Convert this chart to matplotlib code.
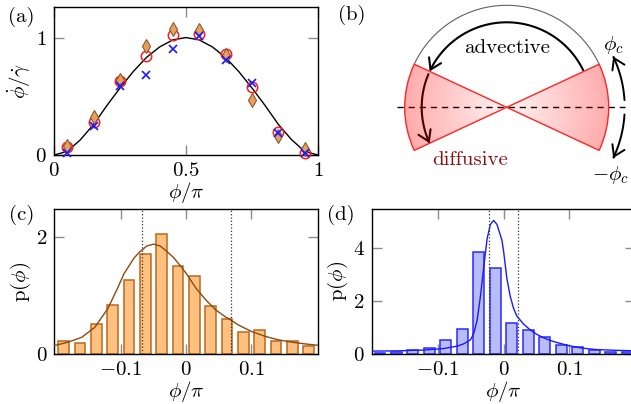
import numpy as np
import matplotlib
matplotlib.use("Agg")
import matplotlib.pyplot as plt
import matplotlib.patches as mpatches
from matplotlib.path import Path

plt.rcParams.update({
    "font.family": "serif",
    "font.serif": ["cmr10"],
    "mathtext.fontset": "cm",
    "axes.formatter.use_mathtext": True,
    "axes.unicode_minus": False,
    "font.size": 15,
})

# ---------------- data ----------------
# panel (a)
phi_pts = [0.05, 0.15, 0.25, 0.35, 0.45, 0.55, 0.65, 0.75, 0.85, 0.95]
circle_vals = [0.065, 0.28, 0.63, 0.84, 1.02, 1.03, 0.86, 0.58, 0.20, 0.02]
diamond_vals = [0.08, 0.32, 0.64, 0.93, 1.07, 1.06, 0.85, 0.47, 0.16, 0.05]
cross_vals = [0.02, 0.25, 0.59, 0.68, 0.90, 1.01, 0.81, 0.61, 0.19, 0.02]
curve_a_x = [0.0, 0.05, 0.1, 0.15, 0.2, 0.25, 0.3, 0.35, 0.4, 0.45, 0.5,
             0.55, 0.6, 0.65, 0.7, 0.75, 0.8, 0.85, 0.9, 0.95, 1.0]
curve_a_y = [0.0, 0.03, 0.13, 0.26, 0.42, 0.57, 0.71, 0.83, 0.92, 0.98, 1.0,
             0.98, 0.92, 0.83, 0.71, 0.57, 0.42, 0.26, 0.13, 0.03, 0.0]
ticks_a_x = [0, 0.5, 1]
ticklabels_a_x = ["$0$", "$0.5$", "$1$"]
ticks_a_y = [0, 1]
ticklabels_a_y = ["$0$", "$1$"]

# panels (c), (d): histogram bins
bin_centers = [-0.1875, -0.1625, -0.1375, -0.1125, -0.0875, -0.0625, -0.0375, -0.0125,
               0.0125, 0.0375, 0.0625, 0.0875, 0.1125, 0.1375, 0.1625, 0.1875]
hist_c = [0.22, 0.20, 0.51, 0.84, 1.27, 1.71, 2.06, 1.50, 1.34, 0.83, 0.60, 0.38, 0.41,
          0.23, 0.22, 0.14]
hist_d = [0.05, 0.08, 0.16, 0.23, 0.54, 0.94, 3.85, 3.27, 1.19, 0.91, 0.67, 0.35, 0.29,
          0.15, 0.10, 0.09]
curve_c_x = [-0.205, -0.18, -0.16, -0.14, -0.12, -0.105, -0.095, -0.08, -0.072, -0.06,
             -0.05, -0.04, -0.031, -0.02, -0.008, 0.0, 0.015, 0.03, 0.045, 0.06, 0.068,
             0.08, 0.10, 0.12, 0.14, 0.16, 0.18, 0.205]
curve_c_y = [0.14, 0.21, 0.29, 0.46, 0.78, 1.13, 1.38, 1.64, 1.74, 1.85,
             1.88, 1.85, 1.77, 1.66, 1.50, 1.38, 1.13, 0.93, 0.76, 0.64, 0.59,
             0.50, 0.39, 0.31, 0.25, 0.21, 0.18, 0.15]
curve_d_x = [-0.2, -0.16, -0.12, -0.09, -0.07, -0.06, -0.05, -0.045, -0.04, -0.035,
             -0.03, -0.025, -0.02, -0.015, -0.01, -0.0025, 0.0, 0.005, 0.01, 0.015,
             0.02, 0.03, 0.04, 0.05, 0.06, 0.07, 0.08, 0.10, 0.12, 0.14, 0.17, 0.2]
curve_d_y = [0.12, 0.13, 0.16, 0.22, 0.31, 0.40, 0.55, 0.80, 1.30, 2.20,
             3.30, 4.35, 4.90, 5.05, 4.90, 4.31, 3.90, 2.87, 2.20, 1.75,
             1.45, 1.15, 0.93, 0.76, 0.63, 0.53, 0.45, 0.32, 0.23, 0.18, 0.15, 0.13]
phic_c = 0.068
phic_d = 0.022
ticks_cd_x = [-0.1, 0, 0.1]
ticklabels_cd_x = ["$-0.1$", "$0$", "$0.1$"]
ticks_c_y = [0, 2]
ticklabels_c_y = ["$0$", "$2$"]
ticks_d_y = [0, 2, 4]
ticklabels_d_y = ["$0$", "$2$", "$4$"]

# panel (b) schematic
phi_c_deg = 25

W, H = 631, 404
fig = plt.figure(figsize=(W / 100, H / 100), dpi=100)


def px_axes(left, top, right, bottom):
    return fig.add_axes([left / W, 1 - bottom / H, (right - left) / W, (bottom - top) / H])


def style(ax):
    ax.tick_params(direction="in", length=7, width=1, color="#8c8c8c", top=True,
                   right=True, pad=5, labelsize=15)
    for s in ax.spines.values():
        s.set_linewidth(1.0)
        s.set_color("black")


# ---------------- (a) ----------------
axa = px_axes(54, 7, 318, 155)
axa.plot(curve_a_x, curve_a_y, color="black", lw=1.0, zorder=2)
axa.plot(phi_pts, circle_vals, "o", ms=7.5, mfc="none", mec="#ff1a1a", mew=1.1, zorder=3,
         clip_on=False)
axa.plot(phi_pts, diamond_vals, "d", ms=7.0, mfc="#e8a060", mec="#8b5a2b", mew=0.8,
         zorder=4, clip_on=False)
axa.plot(phi_pts, cross_vals, "x", ms=6, mec="#1a1aff", mew=1.2, zorder=5, clip_on=False)
axa.set_xlim(0, 1)
axa.set_ylim(0, 1.26)
axa.set_xticks(ticks_a_x)
axa.set_xticklabels(ticklabels_a_x)
axa.set_yticks(ticks_a_y)
axa.set_yticklabels(ticklabels_a_y)
style(axa)
axa.set_xlabel(r"$\phi/\pi$", labelpad=0)
axa.set_ylabel(r"$\dot{\phi}/\dot{\gamma}$", labelpad=2)

# ---------------- (c) ----------------
bar_w = 0.0165
axc = px_axes(54.3, 209, 318, 354.3)
axc.bar(bin_centers, hist_c, width=bar_w, color="#ffc080", edgecolor="#b8681e", lw=1.1,
        zorder=2)
axc.plot(curve_c_x, curve_c_y, color="#8b4a10", lw=1.0, zorder=3)
for v in (-phic_c, phic_c):
    axc.axvline(v, color="#333333", ls=":", lw=0.9, zorder=4)
axc.set_xlim(-0.202, 0.202)
axc.set_ylim(0, 2.48)
axc.set_xticks(ticks_cd_x)
axc.set_xticklabels(ticklabels_cd_x)
axc.set_yticks(ticks_c_y)
axc.set_yticklabels(ticklabels_c_y)
style(axc)
axc.set_xlabel(r"$\phi/\pi$", labelpad=0)
axc.set_ylabel(r"$\mathrm{p}(\phi)$", labelpad=2)

# ---------------- (d) ----------------
axd = px_axes(371.7, 208.5, 635.4, 354.3)
axd.bar(bin_centers, hist_d, width=bar_w, color="#b8bcf8", edgecolor="#2a2aff", lw=1.1,
        zorder=2)
axd.plot(curve_d_x, curve_d_y, color="#1a1aff", lw=1.0, zorder=3)
for v in (-phic_d, phic_d):
    axd.axvline(v, color="#333333", ls=":", lw=0.9, zorder=4)
axd.set_xlim(-0.2, 0.2)
axd.set_ylim(0, 5.5)
axd.set_xticks(ticks_cd_x)
axd.set_xticklabels(ticklabels_cd_x)
axd.set_yticks(ticks_d_y)
axd.set_yticklabels(ticklabels_d_y)
style(axd)
axd.set_xlabel(r"$\phi/\pi$", labelpad=0)
axd.set_ylabel(r"$\mathrm{p}(\phi)$", labelpad=2)

# ---------------- (b) schematic ----------------
cx, cy = 506.7, 107.3
axb = px_axes(330, 0, 631, 200)
axb.set_xlim(330 - cx, 631 - cx)
axb.set_ylim(-(200 - cy), cy)
axb.set_aspect("equal")
axb.axis("off")

R = 102
r_arrow = 85
r_side = 118

axb.add_patch(mpatches.Arc((0, 0), 2 * R, 2 * R, theta1=phi_c_deg, theta2=180 - phi_c_deg,
                           color="#606060", lw=0.8))


def arc_arrow(r, a0, a1, lw=1.5):
    t = np.radians(np.linspace(a0, a1, 80))
    verts = np.column_stack([r * np.cos(t), r * np.sin(t)])
    p = Path(verts)
    arr = mpatches.FancyArrowPatch(path=p, arrowstyle="->,head_length=0.5,head_width=0.32",
                                   mutation_scale=15, lw=lw, color="black", zorder=2)
    axb.add_patch(arr)


arc_arrow(r_arrow, phi_c_deg + 1, 180 - phi_c_deg)
arc_arrow(r_arrow, 180 - phi_c_deg + 2, 180 + phi_c_deg)
arc_arrow(r_side, 3.5, phi_c_deg + 0.5, lw=1.4)
arc_arrow(r_side, -3.5, -phi_c_deg - 0.5, lw=1.4)

axb.plot([-110, 118.3], [0, 0], color="black", lw=1.0, ls=(0, (4.5, 3.5)), zorder=1)

# gradient-filled wedges
n = 300
xs = np.linspace(-R - 2, R + 2, n)
X, Y = np.meshgrid(xs, xs)
rr = np.clip(np.sqrt(X ** 2 + Y ** 2) / R, 0, 1)
img = np.zeros((n, n, 4))
img[..., 0] = 1.0
img[..., 3] = 0.05 + 0.28 * rr
for a0, a1 in ((-phi_c_deg, phi_c_deg), (180 - phi_c_deg, 180 + phi_c_deg)):
    wedge = mpatches.Wedge((0, 0), R, a0, a1, facecolor="none", edgecolor="#ff2424",
                           lw=1.0, zorder=4)
    axb.add_patch(wedge)
    im = axb.imshow(img, extent=[-R - 2, R + 2, -R - 2, R + 2], origin="lower",
                    zorder=3, interpolation="bilinear")
    im.set_clip_path(wedge)

axb.set_xlim(330 - cx, 631 - cx)
axb.set_ylim(-(200 - cy), cy)

axb.text(0, 59, "advective", ha="center", va="center", fontsize=15, color="black")
axb.text(-36.7, -52.7, "diffusive", ha="center", va="center", fontsize=15, color="#8b1010")
axb.text(106.3, 62.3, r"$\phi_c$", ha="center", va="center", fontsize=15)
axb.text(103.3, -67.7, r"$-\phi_c$", ha="center", va="center", fontsize=15)

# panel labels
for lab, (x, y) in {"(a)": (21.7, 16.7), "(b)": (352, 15), "(c)": (21.7, 215),
                    "(d)": (341, 215)}.items():
    fig.text(x / W, 1 - y / H, lab, ha="center", va="center", fontsize=15)

fig.savefig("out.png", dpi=100)
